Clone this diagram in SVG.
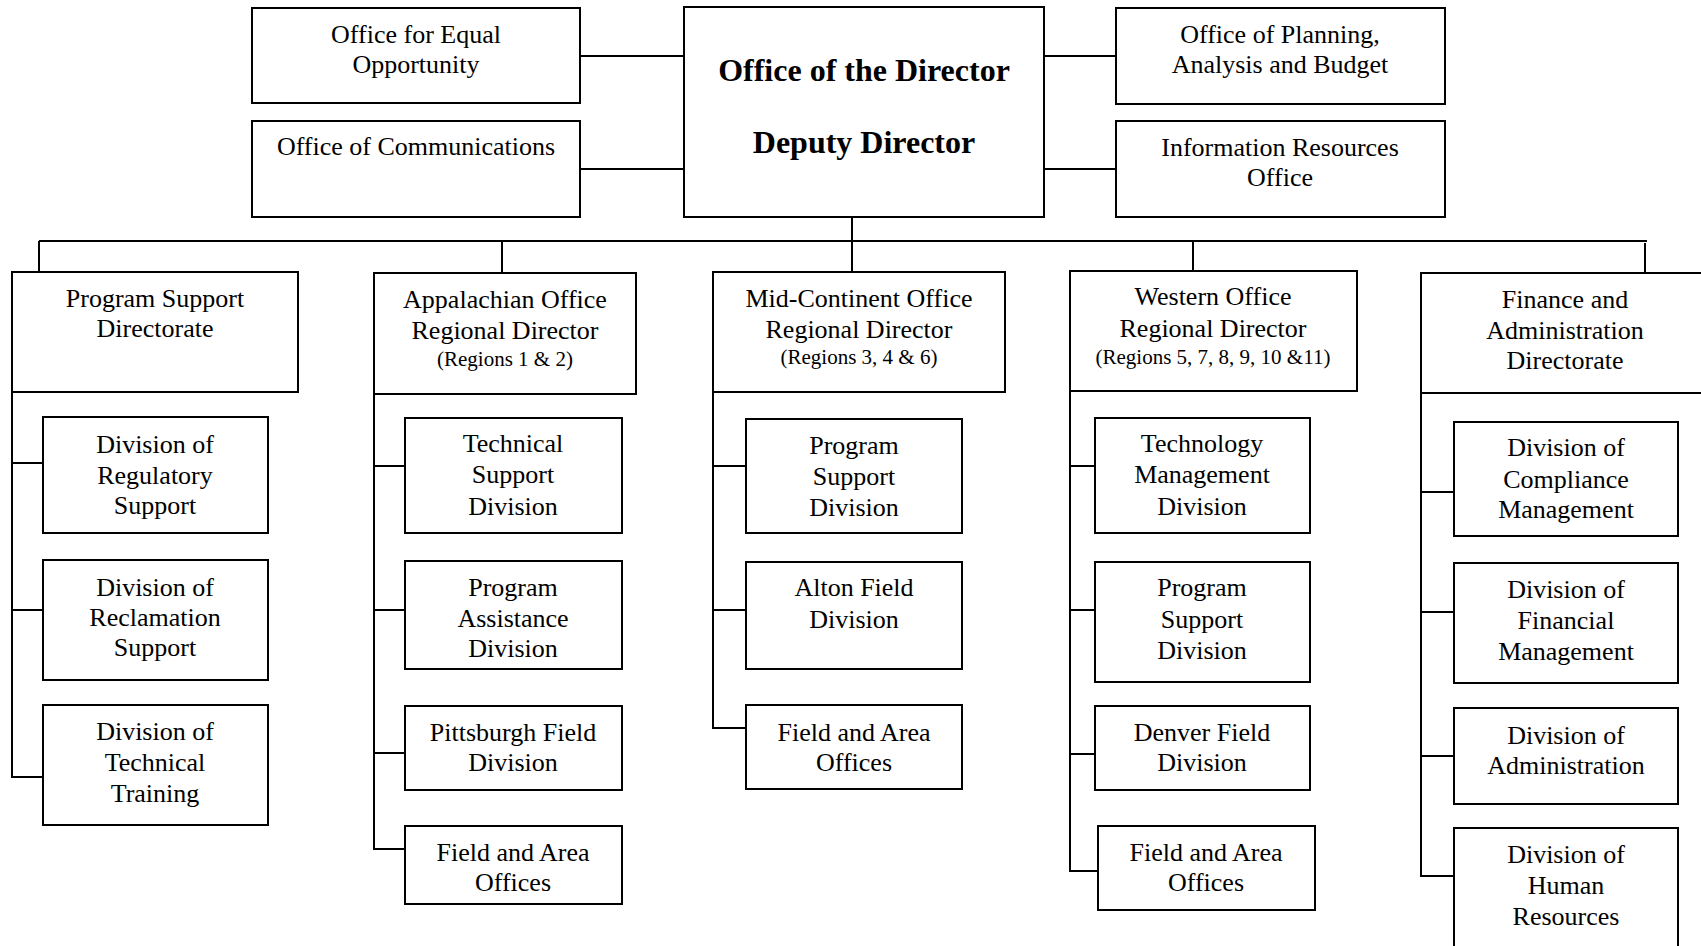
<svg xmlns="http://www.w3.org/2000/svg" width="1701" height="946" viewBox="0 0 1701 946">
<style>
rect{fill:#fff;stroke:#000;stroke-width:2}
.c line,.c polyline{stroke:#000;stroke-width:2;fill:none}
text{font-family:"Liberation Serif","Times New Roman",serif;font-size:26px;fill:#000;text-anchor:middle}
.b{font-weight:bold;font-size:32px}
.s{font-size:21px}
</style>
<rect x="0" y="0" width="1701" height="946" style="fill:#fff;stroke:none"/>
<g class="c" id="connectors">
<line x1="580" y1="56" x2="684" y2="56"/>
<line x1="580" y1="169" x2="684" y2="169"/>
<line x1="1044" y1="56" x2="1116" y2="56"/>
<line x1="1044" y1="169" x2="1116" y2="169"/>
<line x1="852" y1="217" x2="852" y2="272"/>
<line x1="39" y1="241" x2="1647" y2="241"/>
<line x1="39" y1="241" x2="39" y2="272"/>
<line x1="502" y1="241" x2="502" y2="273"/>
<line x1="1193" y1="241" x2="1193" y2="271"/>
<line x1="1645" y1="243" x2="1645" y2="273"/>
<polyline points="12,392 12,777 43,777"/>
<line x1="12" y1="463" x2="43" y2="463"/>
<line x1="12" y1="610" x2="43" y2="610"/>
<polyline points="374,394 374,849 405,849"/>
<line x1="374" y1="466" x2="405" y2="466"/>
<line x1="374" y1="610" x2="405" y2="610"/>
<line x1="374" y1="753" x2="405" y2="753"/>
<polyline points="713,392 713,728 746,728"/>
<line x1="713" y1="466" x2="746" y2="466"/>
<line x1="713" y1="610" x2="746" y2="610"/>
<polyline points="1070,391 1070,871 1098,871"/>
<line x1="1070" y1="466" x2="1095" y2="466"/>
<line x1="1070" y1="610" x2="1095" y2="610"/>
<line x1="1070" y1="754" x2="1095" y2="754"/>
<polyline points="1421,393 1421,876 1454,876"/>
<line x1="1421" y1="492" x2="1454" y2="492"/>
<line x1="1421" y1="612" x2="1454" y2="612"/>
<line x1="1421" y1="756" x2="1454" y2="756"/>
</g>
<g id="eeo"><rect x="252" y="8" width="328" height="95"/><text x="416" y="43">Office for Equal</text><text x="416" y="73">Opportunity</text></g>
<g id="comm"><rect x="252" y="121" width="328" height="96"/><text x="416" y="155">Office of Communications</text></g>
<g id="director"><rect x="684" y="7" width="360" height="210"/><text class="b" x="864" y="81">Office of the Director</text><text class="b" x="864" y="153">Deputy Director</text></g>
<g id="planning"><rect x="1116" y="8" width="329" height="96"/><text x="1280" y="43">Office of Planning,</text><text x="1280" y="73">Analysis and Budget</text></g>
<g id="iro"><rect x="1116" y="121" width="329" height="96"/><text x="1280" y="156">Information Resources</text><text x="1280" y="186">Office</text></g>

<g id="psd"><rect x="12" y="272" width="286" height="120"/><text x="155" y="307">Program Support</text><text x="155" y="337">Directorate</text></g>
<g id="psd1"><rect x="43" y="417" width="225" height="116"/><text x="155" y="453">Division of</text><text x="155" y="484">Regulatory</text><text x="155" y="514">Support</text></g>
<g id="psd2"><rect x="43" y="560" width="225" height="120"/><text x="155" y="596">Division of</text><text x="155" y="626">Reclamation</text><text x="155" y="656">Support</text></g>
<g id="psd3"><rect x="43" y="705" width="225" height="120"/><text x="155" y="740">Division of</text><text x="155" y="771">Technical</text><text x="155" y="802">Training</text></g>

<g id="app"><rect x="374" y="273" width="262" height="121"/><text x="505" y="308">Appalachian Office</text><text x="505" y="339">Regional Director</text><text class="s" x="505" y="366">(Regions 1 &amp; 2)</text></g>
<g id="app1"><rect x="405" y="418" width="217" height="115"/><text x="513" y="452">Technical</text><text x="513" y="483">Support</text><text x="513" y="515">Division</text></g>
<g id="app2"><rect x="405" y="561" width="217" height="108"/><text x="513" y="596">Program</text><text x="513" y="627">Assistance</text><text x="513" y="657">Division</text></g>
<g id="app3"><rect x="405" y="706" width="217" height="84"/><text x="513" y="741">Pittsburgh Field</text><text x="513" y="771">Division</text></g>
<g id="app4"><rect x="405" y="826" width="217" height="78"/><text x="513" y="861">Field and Area</text><text x="513" y="891">Offices</text></g>

<g id="mid"><rect x="713" y="272" width="292" height="120"/><text x="859" y="307">Mid-Continent Office</text><text x="859" y="338">Regional Director</text><text class="s" x="859" y="364">(Regions 3, 4 &amp; 6)</text></g>
<g id="mid1"><rect x="746" y="419" width="216" height="114"/><text x="854" y="454">Program</text><text x="854" y="485">Support</text><text x="854" y="516">Division</text></g>
<g id="mid2"><rect x="746" y="562" width="216" height="107"/><text x="854" y="596">Alton Field</text><text x="854" y="628">Division</text></g>
<g id="mid3"><rect x="746" y="705" width="216" height="84"/><text x="854" y="741">Field and Area</text><text x="854" y="771">Offices</text></g>

<g id="west"><rect x="1070" y="271" width="287" height="120"/><text x="1213" y="305">Western Office</text><text x="1213" y="337">Regional Director</text><text class="s" x="1213" y="364">(Regions 5, 7, 8, 9, 10 &amp;11)</text></g>
<g id="west1"><rect x="1095" y="418" width="215" height="115"/><text x="1202" y="452">Technology</text><text x="1202" y="483">Management</text><text x="1202" y="515">Division</text></g>
<g id="west2"><rect x="1095" y="562" width="215" height="120"/><text x="1202" y="596">Program</text><text x="1202" y="628">Support</text><text x="1202" y="659">Division</text></g>
<g id="west3"><rect x="1095" y="706" width="215" height="84"/><text x="1202" y="741">Denver Field</text><text x="1202" y="771">Division</text></g>
<g id="west4"><rect x="1098" y="826" width="217" height="84"/><text x="1206" y="861">Field and Area</text><text x="1206" y="891">Offices</text></g>

<g id="fin"><rect x="1421" y="273" width="290" height="120"/><text x="1565" y="308">Finance and</text><text x="1565" y="339">Administration</text><text x="1565" y="369">Directorate</text></g>
<g id="fin1"><rect x="1454" y="422" width="224" height="114"/><text x="1566" y="456">Division of</text><text x="1566" y="488">Compliance</text><text x="1566" y="518">Management</text></g>
<g id="fin2"><rect x="1454" y="563" width="224" height="120"/><text x="1566" y="598">Division of</text><text x="1566" y="629">Financial</text><text x="1566" y="660">Management</text></g>
<g id="fin3"><rect x="1454" y="708" width="224" height="96"/><text x="1566" y="744">Division of</text><text x="1566" y="774">Administration</text></g>
<g id="fin4"><rect x="1454" y="828" width="224" height="130"/><text x="1566" y="863">Division of</text><text x="1566" y="894">Human</text><text x="1566" y="925">Resources</text></g>
</svg>
